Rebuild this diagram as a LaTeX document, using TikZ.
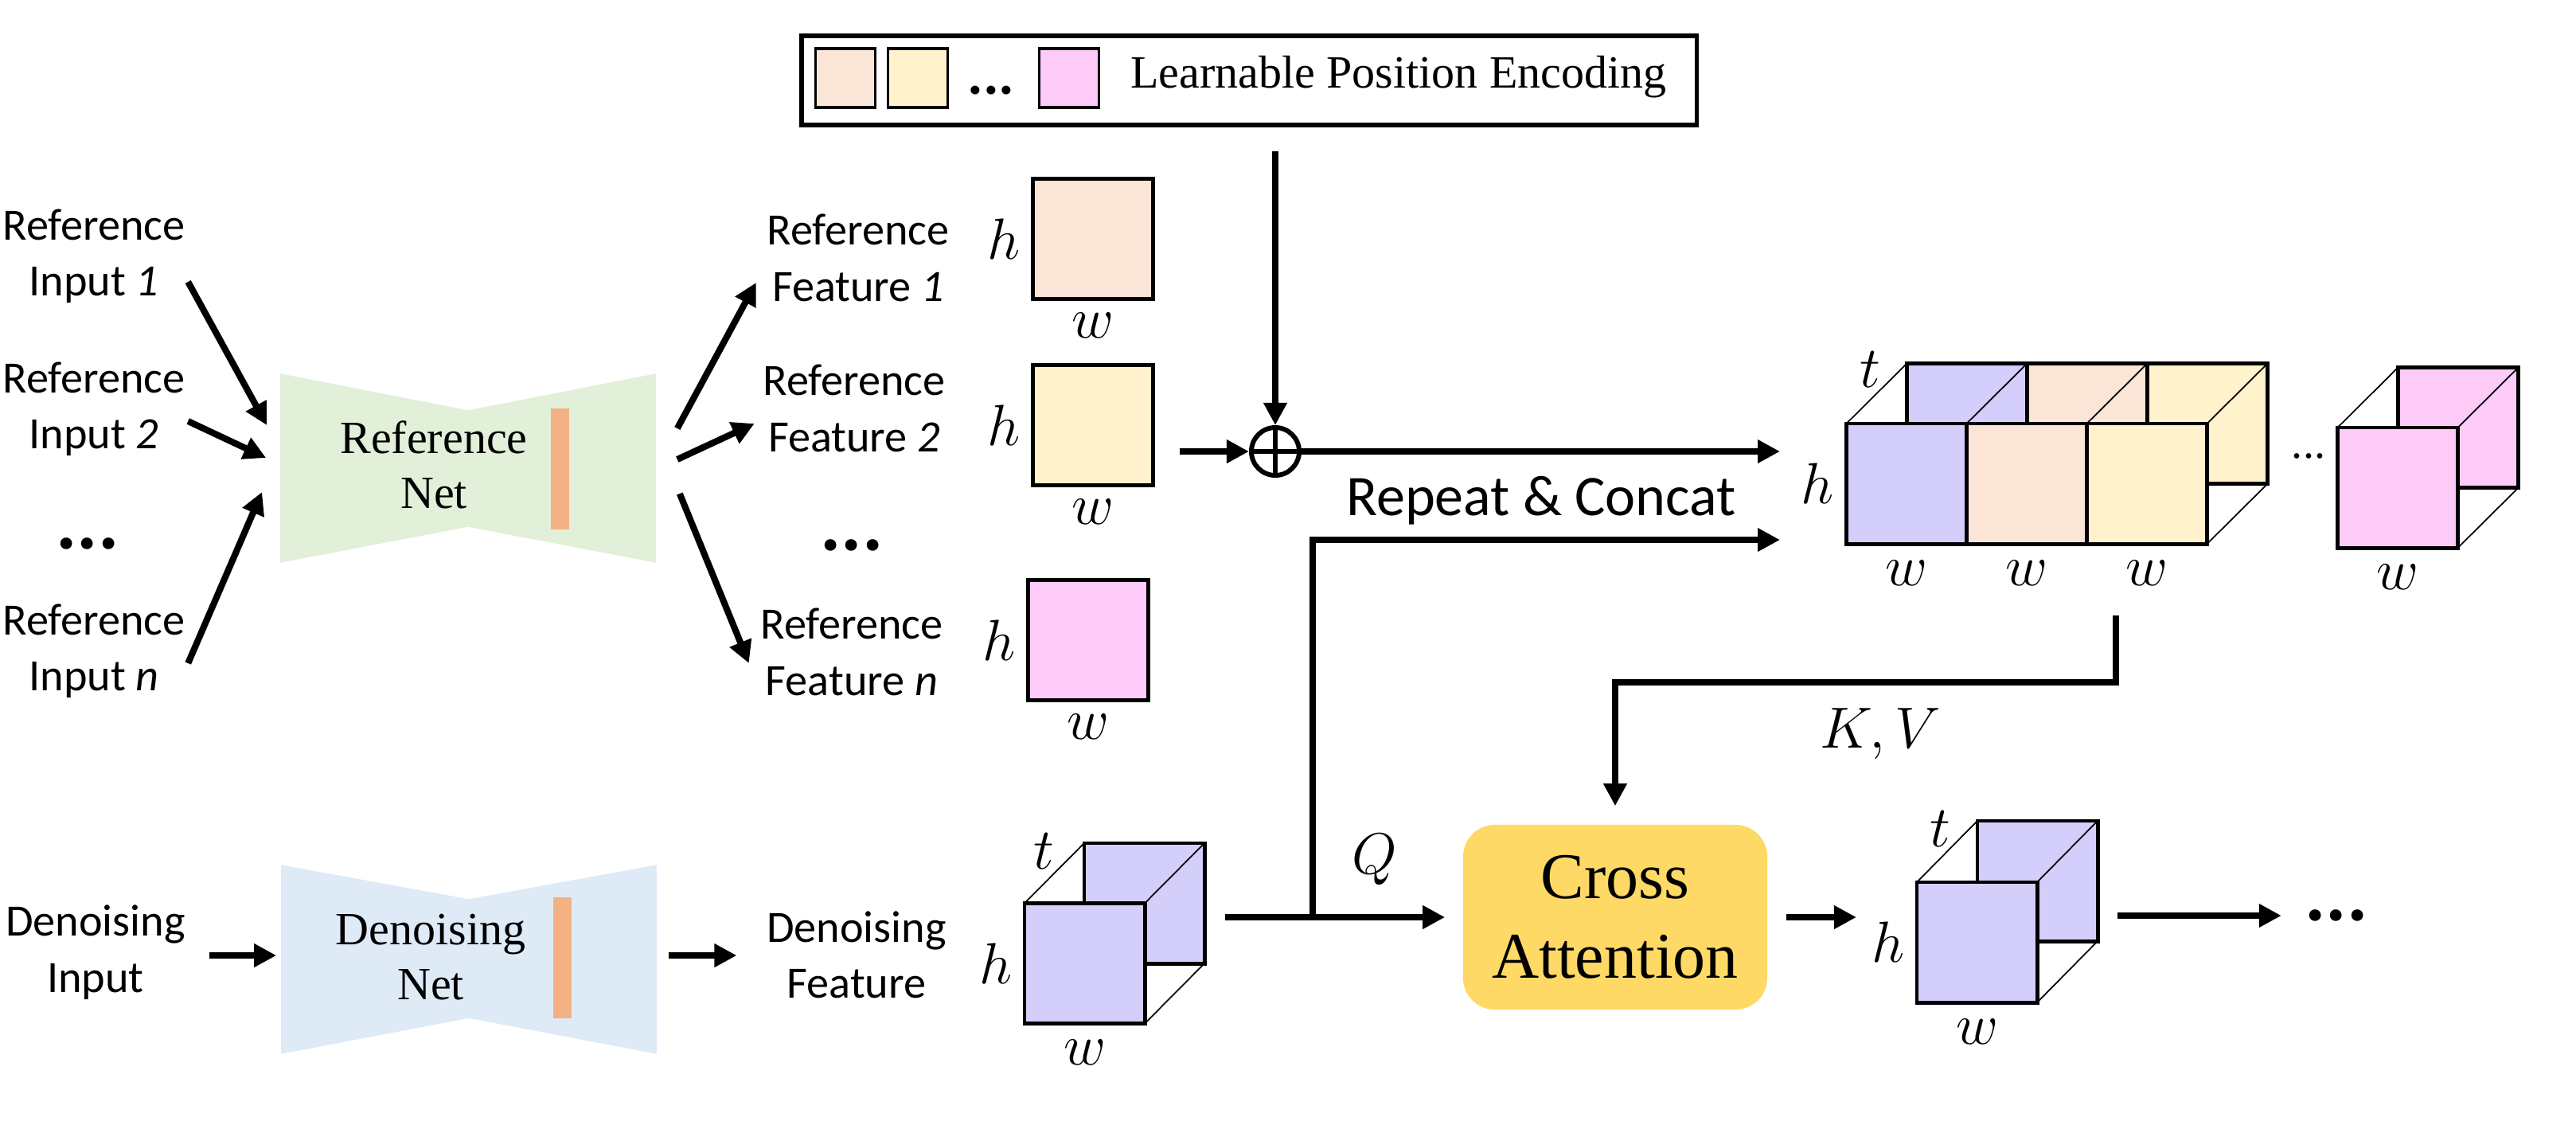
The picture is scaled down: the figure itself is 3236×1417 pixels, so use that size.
\documentclass[tikz,border=0pt]{standalone}
\usepackage{fontspec}
\setmainfont{Liberation Serif}
\newfontfamily\calibri{Carlito}
\usepackage{tikz}
\usetikzlibrary{positioning,calc,arrows.meta}

\definecolor{lavface}{HTML}{D3CEFA}
\definecolor{peachface}{HTML}{FBE5D6}
\definecolor{yelface}{HTML}{FFF2CC}
\definecolor{pinkface}{HTML}{FCCBF7}
\definecolor{netgreen}{HTML}{E2F0D9}
\definecolor{netblue}{HTML}{DEEBF7}
\definecolor{barorange}{HTML}{F4B183}
\definecolor{attnyellow}{HTML}{FFD966}

\begin{document}
\begin{tikzpicture}[x=0.01cm, y=-0.01cm,
	lbl/.style={align=center, inner sep=0, font=\calibri\fontsize{16}{20}\selectfont},
	netlbl/.style={align=center, inner sep=0, font=\fontsize{16.5}{19.6}\selectfont},
	dimlbl/.style={inner sep=0, font=\fontsize{21}{24}\selectfont},
	bigdots/.style={inner sep=0, font=\calibri\bfseries\fontsize{28}{28}\selectfont},
	arr/.style={line width=2.3pt, -{Triangle[length=0.28cm,width=0.28cm]}},
	face/.style={draw, line width=1.4pt, minimum width=1.51cm, minimum height=1.51cm, inner sep=0, outer sep=0},
	tile/.style={draw, line width=0.9pt, minimum width=0.75cm, minimum height=0.74cm, inner sep=0},
	netbox/.style={minimum width=4.7cm, minimum height=2.36cm, inner sep=0},
	midbar/.style={fill=barorange, minimum width=0.23cm, minimum height=1.52cm, inner sep=0},
	rim/.style={line width=0.5pt},
	]
	\useasboundingbox (0,0) rectangle (3236,1417);
	
	% position encoding
	\node[draw, line width=1.6pt, minimum width=11.24cm, minimum height=1.12cm, inner sep=0] (pebox) at (1569,101) {};
	\node[tile, fill=peachface] (pe1) at (1062,98) {};
	\node[tile, fill=yelface, right=0.13cm of pe1] (pe2) {};
	\node[bigdots, font=\calibri\bfseries\fontsize{21}{21}\selectfont] (pedots) at (1245,114) {...};
	\node[tile, fill=pinkface] (pe3) at (1343,98) {};
	\node[inner sep=0, font=\fontsize{16.5}{20}\selectfont] (petxt) at (1757,97) {Learnable Position Encoding};
	
	% reference inputs
	\node[lbl] (in1) at (118,322) {Reference\\Input {\itshape 1}};
	\node[lbl] (in2) at (118,514) {Reference\\Input {\itshape 2}};
	\node[bigdots] (indots) at (110,683) {...};
	\node[lbl] (inn) at (118,818) {Reference\\Input {\itshape n}};
	
	% reference net
	\node[netbox] (refbox) at (588,588) {};
	\fill[netgreen] (refbox.north west) -- ($(refbox.north)+(0,46)$) -- (refbox.north east)
		-- (refbox.south east) -- ($(refbox.south)+(0,-45)$) -- (refbox.south west) -- cycle;
	\node[midbar] (refbar) at (703,589) {};
	\node[netlbl] (reftxt) at (545,584) {Reference\\Net};
	
	\draw[arr] ($(in1.east)+(3,32)$) -- ($(refbox.west)+(-17,-54)$);
	\draw[arr] ($(in2.east)+(3,15)$) -- ($(refbox.west)+(-18,-13)$);
	\draw[arr] ($(inn.east)+(3,15)$) -- ($(refbox.west)+(-23,30)$);
	
	% reference features
	\node[lbl] (rf1) at (1078,324) {Reference\\Feature {\itshape 1}};
	\node[lbl] (rf2) at (1073,513) {Reference\\Feature {\itshape 2}};
	\node[bigdots] (rfdots) at (1070,685) {...};
	\node[lbl] (rfn) at (1070,819) {Reference\\Feature {\itshape n}};
	
	\draw[arr] ($(refbox.east)+(27,-50)$) -- ($(rf1.west)+(-13,31)$);
	\draw[arr] ($(refbox.east)+(27,-11)$) -- ($(rf2.west)+(-10,19)$);
	\draw[arr] ($(refbox.east)+(30,32)$) -- ($(rfn.west)+(-14,14)$);
	
	\node[face, fill=peachface] (sq1) at (1373,300) {};
	\node[face, fill=yelface] (sq2) at (1373,534) {};
	\node[face, fill=pinkface] (sqn) at (1367,804) {};
	\node[dimlbl, left=0.15cm of sq1] (sq1h) {$h$};
	\node[dimlbl, below=0.17cm of sq1] (sq1w) {$w$};
	\node[dimlbl, left=0.15cm of sq2] (sq2h) {$h$};
	\node[dimlbl, below=0.17cm of sq2] (sq2w) {$w$};
	\node[dimlbl, left=0.15cm of sqn] (sqnh) {$h$};
	\node[dimlbl, below=0.17cm of sqn] (sqnw) {$w$};
	
	% add position encoding
	\node[circle, draw, line width=1.7pt, minimum size=0.6cm, inner sep=0] (plus) at (1602,567) {};
	\draw[line width=1.7pt] (plus.north) -- (plus.south) (plus.west) -- (plus.east);
	\draw[arr, shorten <=0.3cm] (plus |- pebox.south) -- (plus.north);
	\draw[arr, shorten <=0.33cm] (sq2.east |- plus) -- (plus.west);
	
	\coordinate (catin1) at (2236,567);
	\coordinate (catin2) at (2236,678);
	\coordinate (qsplit) at (1649,1152);
	\draw[arr] (plus.east) -- (catin1);
	\draw[arr] (qsplit) |- (catin2);
	\node[inner sep=0, font=\calibri\fontsize{20.5}{24}\selectfont] (rctxt) at (1936,629) {Repeat \& Concat};
	
	% concatenated features
	\node[face, fill=lavface] (cb1) at (2471,532) {};
	\node[face, fill=peachface] (cb2) at (2622,532) {};
	\node[face, fill=yelface] (cb3) at (2773,532) {};
	\node[face, fill=lavface] (cf1) at (2395,607.5) {};
	\node[face, fill=peachface] (cf2) at (2546,607.5) {};
	\node[face, fill=yelface] (cf3) at (2697,607.5) {};
	\foreach \i in {1,2,3}
		\draw[rim] (cf\i.north west) -- (cb\i.north west);
	\draw[rim] (cf3.north east) -- (cb3.north east) (cf3.south east) -- (cb3.south east);
	\node[dimlbl] (cubet) at ($(cb1.north west)+(-46,8)$) {$t$};
	\node[dimlbl, left=0.15cm of cf1] (cubeh) {$h$};
	\node[dimlbl, below=0.2cm of cf1] (cubew1) {$w$};
	\node[dimlbl, below=0.2cm of cf2] (cubew2) {$w$};
	\node[dimlbl, below=0.2cm of cf3] (cubew3) {$w$};
	\node[inner sep=0, font=\fontsize{16}{16}\selectfont] (cubedots) at (2900,573) {...};
	
	\node[face, fill=pinkface] (pb) at (3088,537) {};
	\node[face, fill=pinkface] (pf) at (3012,612.5) {};
	\draw[rim] (pf.north west) -- (pb.north west) (pf.north east) -- (pb.north east)
		(pf.south east) -- (pb.south east);
	\node[dimlbl, below=0.2cm of pf] (pinkw) {$w$};
	
	% denoising branch
	\node[lbl] (dnin) at (120,1196) {Denoising\\Input};
	\node[netbox] (dnbox) at (589,1205) {};
	\fill[netblue] (dnbox.north west) -- ($(dnbox.north)+(0,43)$) -- (dnbox.north east)
		-- (dnbox.south east) -- ($(dnbox.south)+(0,-45)$) -- (dnbox.south west) -- cycle;
	\node[midbar] (dnbar) at (706,1203) {};
	\node[netlbl] (dntxt) at (541,1202) {Denoising\\Net};
	\node[lbl] (dnfeat) at (1076,1199) {Denoising\\Feature};
	
	\draw[arr] ($(dnin.east)+(29,4)$) -- ($(dnbox.west)+(-6,-5)$);
	\draw[arr] ($(dnbox.east)+(15,-5)$) -- ($(dnfeat.west)+(-37,1)$);
	
	\node[face, fill=lavface] (dnb) at (1437.5,1134.5) {};
	\node[face, fill=lavface] (dnf) at (1362.5,1210) {};
	\draw[rim] (dnf.north west) -- (dnb.north west) (dnf.north east) -- (dnb.north east)
		(dnf.south east) -- (dnb.south east);
	\node[dimlbl] (dnt) at ($(dnb.north west)+(-51,10)$) {$t$};
	\node[dimlbl, left=0.15cm of dnf] (dnh) {$h$};
	\node[dimlbl, below=0.2cm of dnf] (dnw) {$w$};
	
	% cross attention
	\node[fill=attnyellow, rounded corners=0.4cm, minimum width=3.82cm, minimum height=2.32cm,
		align=center, inner sep=0, font=\fontsize{23.3}{28.4}\selectfont] (ca) at (2029,1152) {Cross\\Attention};
	
	\draw[arr, shorten <=0.26cm, shorten >=0.22cm] (dnb.east |- ca.west) -- (ca.west);
	\node[dimlbl, font=\fontsize{22}{24}\selectfont] (qlbl) at (1727,1080) {$Q$};
	
	\coordinate (kvstart) at (2658,773);
	\coordinate (kvturn) at (2658,857);
	\draw[arr, shorten >=0.23cm] (kvstart) -- (kvturn) -| (ca.north);
	\node[dimlbl, font=\fontsize{22}{24}\selectfont] (kvlbl) at (2362,922) {$K,V$};
	
	% output
	\node[face, fill=lavface] (outb) at (2559.5,1106.5) {};
	\node[face, fill=lavface] (outf) at (2483.5,1183.5) {};
	\draw[rim] (outf.north west) -- (outb.north west) (outf.north east) -- (outb.north east)
		(outf.south east) -- (outb.south east);
	\node[dimlbl] (outt) at ($(outb.north west)+(-47,10)$) {$t$};
	\node[dimlbl, left=0.15cm of outf] (outh) {$h$};
	\node[dimlbl, below=0.2cm of outf] (outw) {$w$};
	
	\draw[arr, shorten <=0.23cm] (ca.east) -- ($(outf.west |- ca.east)+(-76,0)$);
	\node[bigdots] (outdots) at (2935,1150) {...};
	\draw[arr, shorten <=0.25cm, shorten >=0.29cm] (outb.east |- outdots) -- (outdots.west);
\end{tikzpicture}
\end{document}
